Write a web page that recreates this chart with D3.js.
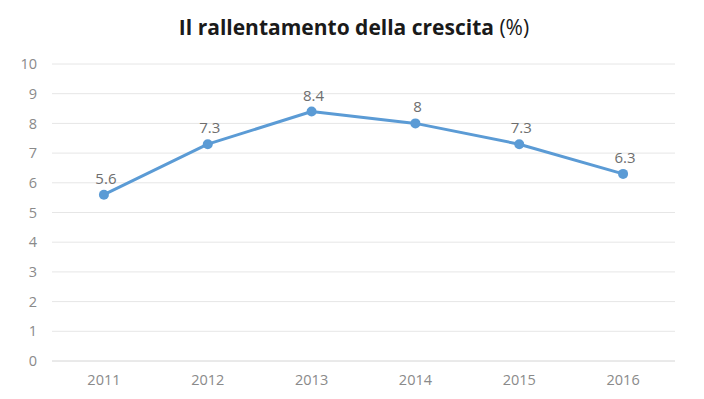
<!DOCTYPE html>
<html>
<head>
<meta charset="utf-8">
<script src="https://cdn.jsdelivr.net/npm/d3@7"></script>
<style>
  body { margin: 0; background: #fff; }
  .tick text { font-family: "Open Sans", "DejaVu Sans", sans-serif; fill: #8a8a8a; font-size: 14.5px; }
  .label { font-family: "Open Sans", "DejaVu Sans", sans-serif; fill: #6e6e6e; font-size: 15px; }
</style>
</head>
<body>
<div id="chart"></div>
<script>
var years = ["2011", "2012", "2013", "2014", "2015", "2016"];
var growth = [5.6, 7.3, 8.4, 8, 7.3, 6.3];
var yTicks = [0, 1, 2, 3, 4, 5, 6, 7, 8, 9, 10];

var data = years.map(function (y, i) { return { year: y, value: growth[i] }; });

var width = 704, height = 399;
var margin = { top: 64, right: 29, bottom: 37, left: 52 };

var svg = d3.select("#chart").append("svg")
    .attr("width", width)
    .attr("height", height);

// title: bold part + regular (%)
var title = svg.append("text")
    .attr("x", 354)
    .attr("y", 35)
    .attr("text-anchor", "middle")
    .style("font-family", "'Open Sans', 'DejaVu Sans', sans-serif")
    .style("font-size", "21px")
    .style("fill", "#1a1a1a");
title.append("tspan").style("font-weight", "bold").text("Il rallentamento della crescita ");
title.append("tspan").style("font-weight", "normal").text("(%)");

var g = svg.append("g")
    .attr("transform", "translate(" + margin.left + "," + margin.top + ")");

var innerW = width - margin.left - margin.right,
    innerH = height - margin.top - margin.bottom - 1;

var x = d3.scaleBand()
    .range([0, innerW])
    .domain(years);

var y = d3.scaleLinear()
    .range([innerH, 0])
    .domain([0, 10]);

// gridlines
g.selectAll(".grid")
    .data(yTicks)
    .enter()
    .append("line")
    .attr("x1", 0)
    .attr("x2", innerW)
    .attr("y1", function (d) { return y(d); })
    .attr("y2", function (d) { return y(d); })
    .attr("stroke", function (d) { return d === 0 ? "#d4d4d4" : "#e6e6e6"; })
    .attr("stroke-width", 1);

// y axis
var yAxis = g.append("g")
    .call(d3.axisLeft(y).tickValues(yTicks).tickSize(0).tickPadding(15));
yAxis.select(".domain").remove();

// x axis
var xAxis = g.append("g")
    .attr("transform", "translate(0," + innerH + ")")
    .call(d3.axisBottom(x).tickSize(0).tickPadding(14));
xAxis.select(".domain").remove();

var cx = function (d) { return x(d.year) + x.bandwidth() / 2; };

// line
var line = d3.line()
    .x(cx)
    .y(function (d) { return y(d.value); });

g.append("path")
    .datum(data)
    .attr("fill", "none")
    .attr("stroke", "#5b9bd5")
    .attr("stroke-width", 3)
    .attr("stroke-linejoin", "round")
    .attr("d", line);

// points
g.selectAll(".dot")
    .data(data)
    .enter()
    .append("circle")
    .attr("cx", cx)
    .attr("cy", function (d) { return y(d.value); })
    .attr("r", 5)
    .attr("fill", "#5b9bd5");

// value labels above each point
g.selectAll(".label")
    .data(data)
    .enter()
    .append("text")
    .attr("class", "label")
    .attr("x", function (d) { return cx(d) + 2; })
    .attr("y", function (d) { return y(d.value) - 11; })
    .attr("text-anchor", "middle")
    .text(function (d) { return d.value; });
</script>
</body>
</html>
